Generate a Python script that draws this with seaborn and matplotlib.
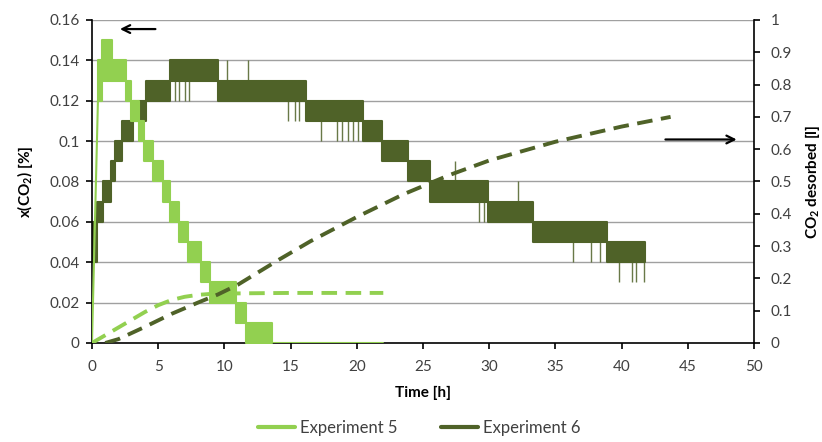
import numpy as np
import pandas as pd
import seaborn as sns
import matplotlib.pyplot as plt
from matplotlib.lines import Line2D

# ---------------- data ----------------
# Experiment 5: x(CO2) [%] - flickering step blocks (start h, end h, low, high)
exp5_start = [0.45, 0.75, 1.50, 2.55, 2.95, 3.55, 3.95, 4.60, 5.40, 5.90, 6.60, 7.25, 8.20, 8.90, 10.90, 11.60]
exp5_end   = [0.75, 1.50, 2.55, 2.95, 3.55, 3.95, 4.60, 5.40, 5.90, 6.60, 7.25, 8.20, 8.90, 10.90, 11.60, 13.60]
exp5_low   = [0.12, 0.13, 0.13, 0.12, 0.11, 0.10, 0.09, 0.08, 0.07, 0.06, 0.05, 0.04, 0.03, 0.02, 0.01, 0.00]
exp5_high  = [0.14, 0.15, 0.14, 0.13, 0.12, 0.11, 0.10, 0.09, 0.08, 0.07, 0.06, 0.05, 0.04, 0.03, 0.02, 0.01]
# Experiment 5: initial rise and final zero tail
exp5_rise_t = [0.0, 0.45]
exp5_rise_v = [0.0, 0.12]
exp5_tail_t = [13.6, 22.0]
exp5_tail_v = [0.0, 0.0]

# Experiment 6: x(CO2) [%] blocks
exp6_start = [0.0, 0.38, 0.83, 1.43, 1.75, 2.25, 3.10, 4.10, 5.90, 9.55, 16.20, 20.50, 21.90, 23.90, 25.50, 29.90, 33.30, 38.90]
exp6_end   = [0.38, 0.83, 1.43, 1.75, 2.25, 3.10, 4.10, 5.90, 9.55, 16.20, 20.50, 21.90, 23.90, 25.50, 29.90, 33.30, 38.90, 41.80]
exp6_low   = [0.04, 0.06, 0.07, 0.08, 0.09, 0.10, 0.11, 0.12, 0.13, 0.12, 0.11, 0.10, 0.09, 0.08, 0.07, 0.06, 0.05, 0.04]
exp6_high  = [0.06, 0.07, 0.08, 0.09, 0.10, 0.11, 0.12, 0.13, 0.14, 0.13, 0.12, 0.11, 0.10, 0.09, 0.08, 0.07, 0.06, 0.05]
# Experiment 6: isolated excursions (time, low, high)
exp6_spike_t  = [6.3, 6.6, 7.0, 7.3, 10.2, 11.8, 14.8, 15.3, 15.6, 17.3, 18.5, 18.9, 19.3, 19.7, 20.1, 27.4, 29.2, 29.6, 30.2, 32.2, 36.3, 37.7, 38.4, 39.8, 40.8, 41.1, 41.7]
exp6_spike_lo = [0.12, 0.12, 0.12, 0.12, 0.13, 0.13, 0.11, 0.11, 0.11, 0.10, 0.10, 0.10, 0.10, 0.10, 0.10, 0.08, 0.06, 0.06, 0.06, 0.07, 0.04, 0.04, 0.04, 0.03, 0.03, 0.03, 0.03]
exp6_spike_hi = [0.13, 0.13, 0.13, 0.13, 0.14, 0.14, 0.12, 0.12, 0.12, 0.11, 0.11, 0.11, 0.11, 0.11, 0.11, 0.09, 0.07, 0.07, 0.07, 0.08, 0.05, 0.05, 0.05, 0.04, 0.04, 0.04, 0.04]

# CO2 desorbed [l] (right axis)
des5_t = [0.0, 1.0, 2.0, 3.0, 4.0, 5.0, 6.0, 7.0, 8.0, 9.0, 10.0, 12.0, 15.0, 22.0]
des5_v = [0.0, 0.024, 0.048, 0.072, 0.096, 0.117, 0.133, 0.143, 0.149, 0.152, 0.153, 0.154, 0.155, 0.155]
des6_t = [1.0, 2.0, 4.0, 6.0, 8.0, 9.5, 11.0, 14.0, 16.5, 20.0, 23.5, 27.0, 30.0, 35.0, 40.0, 43.7]
des6_v = [0.0, 0.012, 0.05, 0.09, 0.125, 0.15, 0.18, 0.255, 0.315, 0.39, 0.46, 0.52, 0.565, 0.623, 0.67, 0.70]

x_ticks = [0, 5, 10, 15, 20, 25, 30, 35, 40, 45, 50]
yl_ticks = [0, 0.02, 0.04, 0.06, 0.08, 0.1, 0.12, 0.14, 0.16]
yr_ticks = [0, 0.1, 0.2, 0.3, 0.4, 0.5, 0.6, 0.7, 0.8, 0.9, 1]

# ---------------- style ----------------
sns.set_theme(style="white")
plt.rcParams['font.family'] = ['Lato', 'DejaVu Sans']
plt.rcParams['mathtext.fontset'] = 'custom'
plt.rcParams['mathtext.rm'] = 'Lato'
plt.rcParams['mathtext.bf'] = 'Lato:bold'

C5 = '#92D050'
C6 = '#4F6228'
TXT = '#404040'

fig = plt.figure(figsize=(8.22, 4.42), dpi=100)
ax = fig.add_axes([0.1119, 0.224, 0.8054, 0.7308])
ax2 = ax.twinx()

# gridlines (left axis)
for v in yl_ticks[1:]:
    ax.axhline(v, color='#A0A0A0', lw=1.0, zorder=0)

# Experiment 6 blocks
for s, e, lo, hi in zip(exp6_start, exp6_end, exp6_low, exp6_high):
    ax.fill_between([s, e], [lo, lo], [hi, hi], color=C6, lw=1.5, edgecolor=C6, zorder=2)
ax.vlines(exp6_spike_t, exp6_spike_lo, exp6_spike_hi, color=C6, lw=1.0, alpha=0.85, zorder=2)

# Experiment 5 blocks
for s, e, lo, hi in zip(exp5_start, exp5_end, exp5_low, exp5_high):
    ax.fill_between([s, e], [lo, lo], [hi, hi], color=C5, lw=1.5, edgecolor=C5, zorder=3)
sns.lineplot(x=exp5_rise_t, y=exp5_rise_v, ax=ax, color=C5, lw=1.5, zorder=3)
sns.lineplot(x=exp5_tail_t, y=exp5_tail_v, ax=ax, color=C5, lw=1.5, zorder=3)

# desorbed volumes (right axis)
sns.lineplot(x=des5_t, y=des5_v, ax=ax2, color=C5, lw=2.8, zorder=4)
sns.lineplot(x=des6_t, y=des6_v, ax=ax2, color=C6, lw=2.8, zorder=4)
for ln in ax2.get_lines():
    ln.set_dashes([4.0, 2.2])

# axes settings
ax.set_xlim(0, 50)
ax.set_ylim(0, 0.16)
ax2.set_ylim(0, 1)
ax.set_xticks(x_ticks)
ax.set_xticklabels([str(v) for v in x_ticks])
ax.set_yticks(yl_ticks)
ax.set_yticklabels(['0', '0.02', '0.04', '0.06', '0.08', '0.1', '0.12', '0.14', '0.16'])
ax2.set_yticks(yr_ticks)
ax2.set_yticklabels(['0', '0.1', '0.2', '0.3', '0.4', '0.5', '0.6', '0.7', '0.8', '0.9', '1'])

for a in (ax, ax2):
    for sp in a.spines.values():
        sp.set_visible(False)
ax.spines['left'].set_visible(True)
ax.spines['bottom'].set_visible(True)
ax2.spines['right'].set_visible(True)
for sp in (ax.spines['left'], ax.spines['bottom'], ax2.spines['right']):
    sp.set_color('black')
    sp.set_linewidth(1.2)

ax.tick_params(axis='both', which='major', direction='out', length=4, width=1.2,
               color='black', labelsize=11, labelcolor=TXT, pad=5, left=True, bottom=True)
ax2.tick_params(axis='y', direction='out', length=4, width=1.2, color='black',
                labelsize=11, labelcolor=TXT, pad=8, right=True)
ax.tick_params(axis='x', pad=8)

ax.set_xlabel('Time [h]', fontsize=11, fontweight='bold', color='black', labelpad=9)
ax.set_ylabel(r'x(CO$_\mathbf{2}$) [%]', fontsize=11, fontweight='bold', color='black', labelpad=10)
ax2.set_ylabel(r'CO$_\mathbf{2}$ desorbed [l]', fontsize=11, fontweight='bold', color='black', labelpad=8)

# arrows
ax.annotate('', xy=(1.9, 0.1555), xytext=(5.0, 0.1555),
            arrowprops=dict(arrowstyle='->', color='black', lw=1.6, mutation_scale=14))
ax2.annotate('', xy=(48.9, 0.63), xytext=(43.1, 0.63),
             arrowprops=dict(arrowstyle='->', color='black', lw=1.6, mutation_scale=14))

# legend
handles = [Line2D([0], [0], color=C5, lw=3), Line2D([0], [0], color=C6, lw=3)]
fig.legend(handles, ['Experiment 5', 'Experiment 6'], loc='lower center', ncol=2,
           bbox_to_anchor=(0.51, -0.02), frameon=False, fontsize=12, handlelength=2.2,
           handletextpad=0.3, columnspacing=2.6, labelcolor=TXT)

fig.savefig('out.png', dpi=100)
